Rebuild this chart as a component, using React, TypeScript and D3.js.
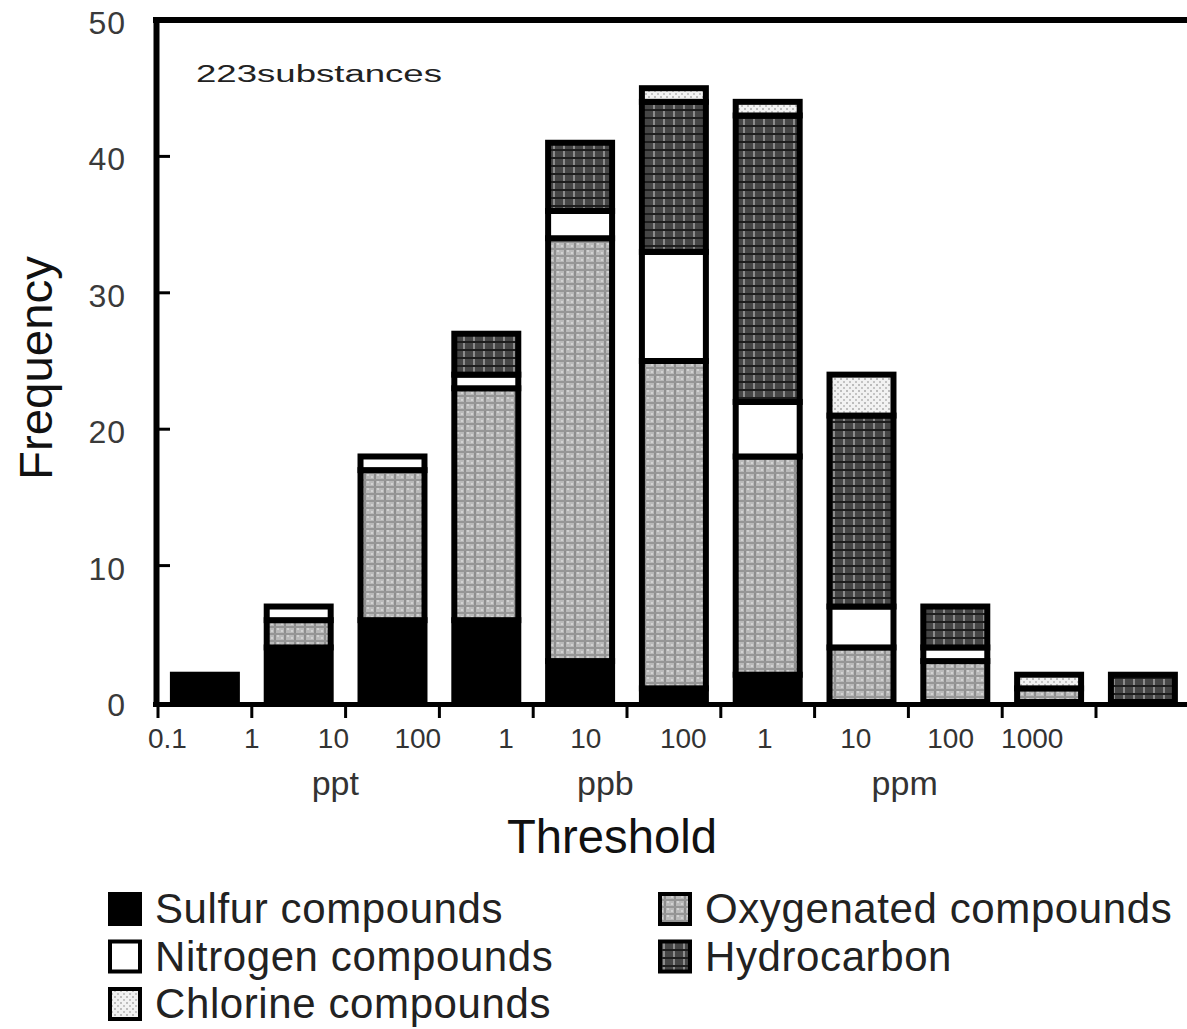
import React from "react";
import * as d3 from "d3";

const categories = [
  "0.1-1 ppt", "1-10 ppt", "10-100 ppt", "100 ppt-1 ppb", "1-10 ppb", "10-100 ppb",
  "100 ppb-1 ppm", "1-10 ppm", "10-100 ppm", "100-1000 ppm", ">1000 ppm",
];
const sulfur = [2, 4, 6, 6, 3, 1, 2, 0, 0, 0, 0];
const oxygenated = [0, 2, 11, 17, 31, 24, 16, 4, 3, 1, 0];
const nitrogen = [0, 1, 1, 1, 2, 8, 4, 3, 1, 0, 0];
const hydrocarbon = [0, 0, 0, 3, 5, 11, 21, 14, 3, 0, 2];
const chlorine = [0, 0, 0, 0, 0, 1, 1, 3, 0, 1, 0];

const seriesKeys = ["sulfur", "oxygenated", "nitrogen", "hydrocarbon", "chlorine"];
const seriesValues: Record<string, number[]> = { sulfur, oxygenated, nitrogen, hydrocarbon, chlorine };

const yTicks = [0, 10, 20, 30, 40, 50];
const xTickLabels = ["0.1", "1", "10", "100", "1", "10", "100", "1", "10", "100", "1000"];
const xTickLabelPos = [0.1, 1.0, 1.87, 2.77, 3.71, 4.56, 5.6, 6.47, 7.44, 8.45, 9.32];
const unitLabels = ["ppt", "ppb", "ppm"];
const unitLabelPos = [1.89, 4.77, 7.96];

const legendItems = [
  { key: "sulfur", label: "Sulfur compounds", col: 0, row: 0 },
  { key: "nitrogen", label: "Nitrogen compounds", col: 0, row: 1 },
  { key: "chlorine", label: "Chlorine compounds", col: 0, row: 2 },
  { key: "oxygenated", label: "Oxygenated compounds", col: 1, row: 0 },
  { key: "hydrocarbon", label: "Hydrocarbon", col: 1, row: 1 },
];

const FILL: Record<string, string> = {
  sulfur: "#000",
  oxygenated: "url(#patOxy)",
  nitrogen: "#fff",
  hydrocarbon: "url(#patHyd)",
  chlorine: "url(#patCl)",
};

const FONT = "'Liberation Sans', Arial, sans-serif";

export default function App() {
  const W = 1187, H = 1029;
  const x0 = 158, step = 93.8;
  const xBand = d3.scaleBand<string>()
    .domain(categories)
    .range([x0, x0 + step * categories.length])
    .paddingInner(0.254)
    .paddingOuter(0.127);
  const xEdge = d3.scaleLinear().domain([0, categories.length]).range([x0, x0 + step * categories.length]);
  const y = d3.scaleLinear().domain([0, 50]).range([702, 20]);

  const rows = categories.map((c, i) => {
    const r: any = { cat: c };
    seriesKeys.forEach((k) => (r[k] = seriesValues[k][i]));
    return r;
  });
  const stacked = d3.stack<any>().keys(seriesKeys)(rows);
  const bw = xBand.bandwidth();
  const sw = 6;

  return (
    <svg width={W} height={H} style={{ position: "absolute", left: 0, top: 0, background: "#fff" }}>
      <defs>
        <pattern id="patOxy" patternUnits="userSpaceOnUse" width="10" height="7">
          <rect width="10" height="7" fill="#b9b9b9" />
          <rect x="4" y="0" width="2" height="7" fill="#8e8e8e" />
          <rect x="0" y="3" width="10" height="2" fill="#969696" />
          <rect x="1" y="0" width="2" height="2" fill="#d2d2d2" />
          <rect x="7" y="5" width="2" height="2" fill="#d2d2d2" />
        </pattern>
        <pattern id="patHyd" patternUnits="userSpaceOnUse" width="10" height="8">
          <rect width="10" height="8" fill="#464646" />
          <rect x="3" y="0" width="2" height="8" fill="#8c8c8c" />
          <rect x="0" y="5" width="10" height="2" fill="#1e1e1e" />
        </pattern>
        <pattern id="patCl" patternUnits="userSpaceOnUse" width="6" height="6">
          <rect width="6" height="6" fill="#f2f2f2" />
          <rect x="0" y="0" width="2" height="2" fill="#bdbdbd" />
          <rect x="3" y="3" width="2" height="2" fill="#c4c4c4" />
        </pattern>
      </defs>

      {/* bars */}
      {stacked.map((s) => (
        <g key={s.key}>
          {s.map((d, i) => {
            if (d[1] - d[0] <= 0) return null;
            const cat = categories[i];
            const xx = (xBand(cat) as number) + sw / 2;
            return (
              <rect
                key={cat}
                x={xx}
                y={y(d[1])}
                width={bw - sw}
                height={y(d[0]) - y(d[1])}
                fill={FILL[s.key]}
                stroke="#000"
                strokeWidth={sw}
              />
            );
          })}
        </g>
      ))}

      {/* frame */}
      <line x1={156.5} x2={156.5} y1={17} y2={707} stroke="#000" strokeWidth={6} />
      <line x1={153} x2={W} y1={20} y2={20} stroke="#000" strokeWidth={6} />
      <line x1={153} x2={W} y1={704.5} y2={704.5} stroke="#000" strokeWidth={5} />

      {/* y ticks */}
      {yTicks.map((t) => (
        <g key={t}>
          {t > 0 && t < 50 && (
            <line x1={157} x2={170} y1={y(t)} y2={y(t)} stroke="#000" strokeWidth={3} />
          )}
          <text x={126} y={y(t) + 14} textAnchor="end" fontSize={32} fontFamily={FONT} fill="#3a3a3a" letterSpacing={1}>
            {t}
          </text>
        </g>
      ))}

      {/* x ticks */}
      {d3.range(0, categories.length).map((i) => (
        <line key={i} x1={xEdge(i)} x2={xEdge(i)} y1={706} y2={718} stroke="#000" strokeWidth={3} />
      ))}
      {xTickLabels.map((l, i) => (
        <text key={i} x={xEdge(xTickLabelPos[i])} y={748} textAnchor="middle" fontSize={28} fontFamily={FONT} fill="#333">
          {l}
        </text>
      ))}
      {unitLabels.map((l, i) => (
        <text key={l} x={xEdge(unitLabelPos[i])} y={795} textAnchor="middle" fontSize={34} fontFamily={FONT} fill="#333">
          {l}
        </text>
      ))}

      {/* axis titles */}
      <text x={612} y={853} textAnchor="middle" fontSize={48} fontFamily={FONT} fill="#111" textLength={210} lengthAdjust="spacingAndGlyphs">
        Threshold
      </text>
      <text transform="translate(52,368) rotate(-90)" textAnchor="middle" fontSize={46} fontFamily={FONT} fill="#111" textLength={224} lengthAdjust="spacingAndGlyphs">
        Frequency
      </text>
      <text x={196} y={82} fontSize={23} fontFamily={FONT} fill="#222" textLength={246} lengthAdjust="spacingAndGlyphs">
        223substances
      </text>

      {/* legend */}
      {legendItems.map((it) => {
        const lx = it.col === 0 ? 108 : 658;
        const ly = 892 + it.row * 47.5;
        return (
          <g key={it.key}>
            <rect x={lx + 2} y={ly + 2} width={30} height={30} fill={FILL[it.key]} stroke="#000" strokeWidth={4} />
            <text x={lx + 47} y={ly + 31} fontSize={42} fontFamily={FONT} fill="#222" letterSpacing={0.6}>
              {it.label}
            </text>
          </g>
        );
      })}
    </svg>
  );
}
